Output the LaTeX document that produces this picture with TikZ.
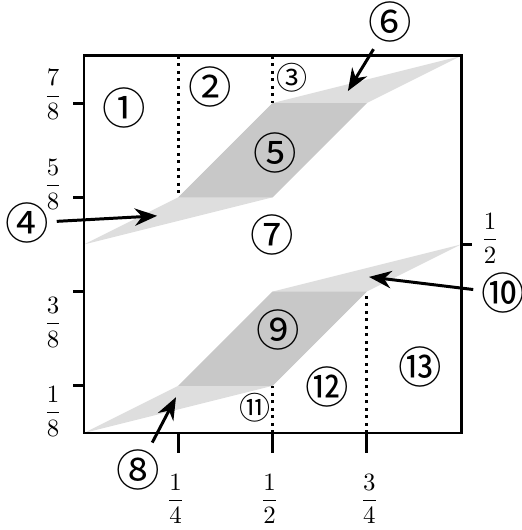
\documentclass[tikz,border=0pt]{standalone}
\usepackage{fontspec}
\usepackage{amsmath}
\usepackage{tikz}
\usetikzlibrary{arrows.meta}
\newfontfamily\circfont{Noto Sans CJK JP}
\definecolor{paleband}{gray}{0.87}
\definecolor{midband}{gray}{0.785}

\begin{document}
\begin{tikzpicture}[x=151.7pt,y=151.7pt,
        num/.style={font=\circfont\fontsize{17.5}{17.5}\selectfont,inner sep=0pt},
        smallnum/.style={font=\circfont\fontsize{12.5}{12.5}\selectfont,inner sep=0pt},
        guide/.style={line width=1.2pt,dash pattern=on 1.2pt off 1.8pt},
        pointer/.style={line width=1.2pt,shorten <=3pt,-{Stealth[length=9pt,width=7pt]}}]
        \useasboundingbox (-0.2228,-0.2573) rectangle (1.1592,1.1485);
        \fill[paleband](0, 0.5) -- (0.25, 0.625) -- (0.5, 0.875) -- (1, 1) -- (0.75, 0.875) -- (0.5, 0.625) -- cycle;
        \fill[midband](0.25, 0.625) -- (0.5, 0.625) -- (0.75, 0.875) -- (0.5, 0.875) -- cycle;
        \fill[paleband](0, 0) -- (0.25, 0.125) -- (0.5, 0.375) -- (1, 0.5) -- (0.75, 0.375) -- (0.5, 0.125) -- cycle;
        \fill[midband](0.25, 0.125) -- (0.5, 0.125) -- (0.75, 0.375) -- (0.5, 0.375) -- cycle;
        \draw[guide](0.25, 1) -- (0.25, 0.625);
        \draw[guide](0.5, 1) -- (0.5, 0.875);
        \draw[guide](0.5, 0) -- (0.5, 0.125);
        \draw[guide](0.75, 0) -- (0.75, 0.375);
        \draw[line width=1.2pt](0, 0) rectangle (1, 1);
        \draw[line width=1.2pt](0, 0.125) -- (-0.029, 0.125);
        \draw[line width=1.2pt](0, 0.375) -- (-0.029, 0.375);
        \draw[line width=1.2pt](0, 0.625) -- (-0.029, 0.625);
        \draw[line width=1.2pt](0, 0.875) -- (-0.029, 0.875);
        \draw[line width=1.2pt](1, 0.5) -- (1.029, 0.5);
        \draw[line width=1.2pt](0.25, 0) -- (0.25, -0.053);
        \draw[line width=1.2pt](0.5, 0) -- (0.5, -0.053);
        \draw[line width=1.2pt](0.75, 0) -- (0.75, -0.053);
        \node (y78) at (-0.082, 0.897) {$\dfrac{7}{8}$};
        \node (y58) at (-0.082, 0.660) {$\dfrac{5}{8}$};
        \node (y38) at (-0.082, 0.294) {$\dfrac{3}{8}$};
        \node (y18) at (-0.082, 0.058) {$\dfrac{1}{8}$};
        \node (y12) at (1.077, 0.517) {$\dfrac{1}{2}$};
        \node (x14) at (0.243, -0.175) {$\dfrac{1}{4}$};
        \node (x12) at (0.492, -0.175) {$\dfrac{1}{2}$};
        \node (x34) at (0.757, -0.175) {$\dfrac{3}{4}$};
        \node[num] (r1) at (0.106, 0.862) {①};
        \node[num] (r2) at (0.334, 0.918) {②};
        \node[smallnum] (r3) at (0.552, 0.942) {③};
        \node[num] (r4) at (-0.151, 0.557) {④};
        \node[num] (r5) at (0.507, 0.743) {⑤};
        \node[num] (r6) at (0.812, 1.090) {⑥};
        \node[num] (r7) at (0.499, 0.525) {⑦};
        \node[num] (r8) at (0.143, -0.098) {⑧};
        \node[num] (r9) at (0.515, 0.273) {⑨};
        \node[num] (r10) at (1.111, 0.371) {⑩};
        \node[smallnum] (r11) at (0.454, 0.066) {⑪};
        \node[num] (r12) at (0.645, 0.122) {⑫};
        \node[num] (r13) at (0.891, 0.175) {⑬};
        \coordinate (p4) at (0.194, 0.576);
        \coordinate (p6) at (0.700, 0.907);
        \coordinate (p8) at (0.244, 0.095);
        \coordinate (p10) at (0.756, 0.414);
        \draw[pointer](r4) -- (p4);
        \draw[pointer](r6) -- (p6);
        \draw[pointer](r8) -- (p8);
        \draw[pointer](r10) -- (p10);
    \end{tikzpicture}
\end{document}
